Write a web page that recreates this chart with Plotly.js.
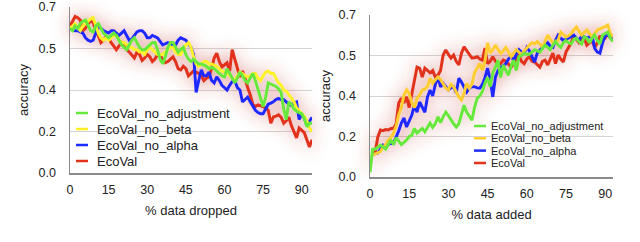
<!DOCTYPE html>
<html><head><meta charset="utf-8">
<script src="https://cdn.plot.ly/plotly-3.0.1.min.js"></script>
<style>html,body{margin:0;padding:0;background:#fff;}#chart{width:640px;height:242px;}</style>
</head><body><div id="chart"></div>
<script>
// ---------- data ----------
const seriesNames = ['EcoVal_no_adjustment', 'EcoVal_no_beta', 'EcoVal_no_alpha', 'EcoVal'];
const colorsLeft  = ['#66e83c', '#fff02a', '#1a2cff', '#e2321e'];
const colorsRight = ['#66e83c', '#ffcc33', '#1a2cff', '#e2321e'];

const yTickVals = [0, 0.175, 0.35, 0.525, 0.7];
const yTickText = ['0.0', '0.2', '0.4', '0.5', '0.7'];
const xTickVals = [0, 15, 30, 45, 60, 75, 90];

// left panel: % data dropped (x = 0..94)
const droppedX = Array.from({length: 95}, (_, i) => i);
const droppedNoAdj = [.61,.60,.62,.61,.63,.64,.645,.62,.60,.595,.62,.63,.61,.59,.58,.57,.58,.59,.58,.56,
  .54,.53,.52,.54,.56,.57,.55,.53,.52,.52,.53,.54,.55,.55,.52,.48,.46,.49,.53,.55,
  .55,.53,.51,.52,.53,.50,.48,.47,.48,.47,.46,.46,.455,.45,.44,.445,.44,.43,.42,.41,
  .405,.44,.42,.40,.38,.40,.425,.41,.39,.38,.40,.42,.39,.35,.31,.28,.32,.38,.375,.37,
  .365,.355,.34,.27,.225,.30,.29,.27,.26,.255,.25,.23,.195,.21,.21];
const droppedNoBeta = [.61,.62,.63,.61,.60,.62,.63,.64,.65,.655,.62,.59,.57,.56,.57,.56,.57,.58,.58,.56,
  .55,.55,.54,.53,.53,.52,.52,.51,.51,.50,.52,.53,.52,.51,.50,.50,.50,.51,.52,.53,
  .53,.51,.50,.50,.52,.54,.55,.53,.49,.46,.45,.46,.47,.47,.46,.46,.455,.45,.44,.43,
  .425,.42,.41,.40,.39,.41,.425,.42,.41,.405,.41,.42,.42,.40,.39,.41,.425,.43,.42,.42,
  .40,.38,.37,.35,.345,.33,.32,.30,.275,.26,.25,.24,.22,.19,.175];
const droppedNoAlpha = [.61,.605,.60,.60,.595,.59,.57,.56,.555,.56,.59,.615,.61,.60,.595,.59,.60,.60,.59,.58,
  .59,.60,.58,.56,.565,.58,.595,.60,.60,.59,.57,.57,.58,.575,.57,.555,.54,.545,.55,.545,
  .54,.54,.56,.57,.565,.56,.545,.53,.50,.34,.39,.435,.41,.41,.425,.39,.38,.405,.39,.37,
  .36,.35,.37,.385,.39,.36,.35,.30,.31,.32,.30,.28,.265,.255,.25,.25,.27,.29,.295,.30,
  .31,.315,.31,.31,.30,.29,.285,.295,.30,.225,.25,.23,.20,.22,.235];
const droppedEcoVal = [.62,.64,.66,.655,.645,.60,.61,.63,.64,.635,.60,.58,.55,.56,.575,.565,.55,.54,.52,.535,
  .55,.54,.52,.51,.495,.485,.51,.50,.475,.485,.50,.49,.47,.48,.50,.495,.48,.465,.47,.48,
  .49,.47,.44,.435,.45,.44,.41,.42,.43,.425,.42,.41,.39,.40,.405,.44,.485,.505,.47,.447,
  .455,.465,.43,.52,.48,.44,.405,.43,.40,.36,.33,.29,.28,.287,.285,.28,.275,.265,.21,.236,
  .24,.245,.235,.21,.22,.235,.20,.175,.148,.19,.18,.17,.14,.11,.14];

// right panel: % data added (x = 0..93)
const addedX = Array.from({length: 94}, (_, i) => i);
const addedNoAdj = [.02,.12,.12,.13,.138,.13,.12,.14,.16,.14,.17,.155,.14,.15,.16,.175,.18,.21,.19,.20,
  .21,.195,.215,.233,.215,.23,.26,.235,.26,.28,.265,.246,.23,.216,.23,.27,.31,.28,.26,.246,
  .30,.34,.35,.37,.405,.43,.39,.45,.475,.505,.43,.484,.46,.44,.48,.505,.46,.52,.525,.535,
  .53,.53,.54,.55,.545,.54,.555,.57,.56,.55,.57,.585,.57,.56,.58,.59,.58,.575,.595,.60,
  .585,.575,.605,.60,.58,.60,.613,.59,.575,.613,.62,.626,.60,.585];
const addedNoBeta = [null,.095,.10,.108,.11,.13,.14,.16,.17,.19,.22,.27,.30,.354,.376,.36,.32,.30,.34,.355,
  .376,.38,.39,.427,.405,.42,.432,.42,.405,.385,.376,.40,.39,.37,.345,.333,.363,.405,.384,.40,
  .45,.47,.49,.462,.50,.58,.535,.55,.57,.55,.535,.545,.56,.54,.52,.535,.55,.54,.527,.545,
  .56,.57,.58,.575,.585,.575,.56,.59,.613,.595,.58,.585,.59,.626,.615,.605,.61,.62,.635,.648,
  .63,.613,.625,.635,.62,.605,.62,.635,.64,.644,.65,.657,.62,.605];
const addedNoAlpha = [null,null,.10,.104,.12,.138,.13,.14,.15,.145,.17,.20,.233,.255,.216,.24,.268,.31,.28,.324,
  .30,.28,.346,.376,.35,.40,.432,.39,.405,.39,.376,.385,.39,.363,.427,.41,.39,.367,.384,.39,
  .39,.385,.384,.40,.43,.47,.42,.346,.432,.46,.475,.48,.49,.51,.52,.505,.53,.55,.54,.535,
  .56,.545,.52,.497,.535,.55,.56,.57,.58,.565,.56,.59,.613,.60,.59,.595,.60,.605,.613,.60,
  .59,.61,.605,.60,.605,.61,.556,.54,.535,.58,.61,.613,.605,.60];
const addedEcoVal = [null,.10,.108,.173,.203,.20,.205,.203,.21,.21,.23,.32,.34,.32,.346,.30,.36,.42,.475,.47,
  .432,.47,.46,.45,.46,.432,.44,.46,.527,.549,.53,.514,.527,.50,.484,.535,.562,.545,.53,.514,
  .515,.52,.51,.505,.557,.49,.50,.52,.50,.484,.49,.505,.50,.485,.475,.49,.514,.527,.50,.49,
  .51,.52,.50,.497,.485,.475,.50,.505,.484,.51,.535,.49,.527,.51,.497,.54,.56,.58,.61,.595,
  .58,.59,.60,.57,.58,.59,.56,.58,.61,.59,.60,.62,.60,.59];

const droppedSeries = [droppedNoAdj, droppedNoBeta, droppedNoAlpha, droppedEcoVal];
const addedSeries = [addedNoAdj, addedNoBeta, addedNoAlpha, addedEcoVal];

// ---------- traces (draw EcoVal first, no_adjustment on top) ----------
const traces = [];
for (let i = seriesNames.length - 1; i >= 0; i--) {
  traces.push({x: droppedX, y: droppedSeries[i], type: 'scatter', mode: 'lines', name: seriesNames[i],
    xaxis: 'x', yaxis: 'y', showlegend: false, line: {color: colorsLeft[i], width: 3}});
}
for (let i = seriesNames.length - 1; i >= 0; i--) {
  traces.push({x: addedX, y: addedSeries[i], type: 'scatter', mode: 'lines', name: seriesNames[i],
    xaxis: 'x2', yaxis: 'y2', showlegend: false, connectgaps: false, line: {color: colorsRight[i], width: 3}});
}

const FONT = 'Liberation Sans, Arial, Helvetica, sans-serif';
const W = 640, H = 242;
const px = v => v / W, py = v => 1 - v / H;

// custom legends (positions in pixels of the 640x242 page)
const shapes = [], annotations = [];
function addLegend(colors, x0, x1, tx, ys, fs) {
  seriesNames.forEach((n, i) => {
    shapes.push({type: 'line', xref: 'paper', yref: 'paper', x0: px(x0), x1: px(x1), y0: py(ys[i]), y1: py(ys[i]),
      line: {color: colors[i], width: 2.5}});
    annotations.push({xref: 'paper', yref: 'paper', x: px(tx), y: py(ys[i]), xanchor: 'left', yanchor: 'middle',
      text: n, showarrow: false, font: {family: FONT, size: fs, color: '#222'}});
  });
}
addLegend(colorsLeft, 76, 88, 95, [113, 129, 145, 161], 13);
addLegend(colorsRight, 474, 486, 489, [126, 138.3, 150.6, 163], 11);

// y-axis title of the right panel placed as a rotated annotation
annotations.push({xref: 'paper', yref: 'paper', x: px(325), y: py(96), xanchor: 'center', yanchor: 'middle',
  textangle: -90, text: 'accuracy', showarrow: false, font: {family: FONT, size: 13, color: '#222'}});

const axisCommon = {
  showline: true, linecolor: '#8a8a8a', linewidth: 1.5, ticks: '', zeroline: false,
  tickfont: {family: FONT, size: 12.5, color: '#222'}, fixedrange: true
};
const yCommon = Object.assign({}, axisCommon, {
  range: [0, 0.7], tickmode: 'array', tickvals: yTickVals, ticktext: yTickText,
  showgrid: true, gridcolor: '#d4d4d4', gridwidth: 1, ticklabelstandoff: 10
});
const xCommon = Object.assign({}, axisCommon, {
  tickmode: 'array', tickvals: xTickVals, showgrid: false, ticklabelstandoff: 4
});

const layout = {
  width: W, height: H, margin: {l: 0, r: 0, t: 0, b: 0},
  paper_bgcolor: '#fff', plot_bgcolor: '#fff', showlegend: false,
  font: {family: FONT, color: '#222'},
  xaxis: Object.assign({}, xCommon, {domain: [70 / W, 312 / W], range: [0, 94], anchor: 'y',
    title: {text: '% data dropped', font: {family: FONT, size: 13, color: '#222'}, standoff: 10}}),
  yaxis: Object.assign({}, yCommon, {domain: [1 - 173 / H, 1 - 7 / H], anchor: 'x',
    title: {text: 'accuracy', font: {family: FONT, size: 13, color: '#222'}, standoff: 7}}),
  xaxis2: Object.assign({}, xCommon, {domain: [370 / W, 613 / W], range: [0, 93], anchor: 'y2',
    title: {text: '% data added', font: {family: FONT, size: 13, color: '#222'}, standoff: 10}}),
  yaxis2: Object.assign({}, yCommon, {domain: [1 - 177 / H, 1 - 15 / H], anchor: 'x2'}),
  shapes: shapes, annotations: annotations
};

Plotly.newPlot('chart', traces, layout, {displayModeBar: false, staticPlot: true}).then(() => {
  const NS = 'http://www.w3.org/2000/svg';
  const svg = document.querySelector('#chart .main-svg');
  let defs = svg.querySelector('defs');
  if (!defs) { defs = document.createElementNS(NS, 'defs'); svg.insertBefore(defs, svg.firstChild); }
  const f = document.createElementNS(NS, 'filter');
  f.setAttribute('id', 'redglow');
  f.setAttribute('x', '-30%'); f.setAttribute('y', '-30%');
  f.setAttribute('width', '160%'); f.setAttribute('height', '160%');
  f.innerHTML =
    '<feFlood flood-color="rgb(195,60,50)" flood-opacity="0.55" result="c"/>' +
    '<feComposite in="c" in2="SourceAlpha" operator="in" result="s"/>' +
    '<feGaussianBlur in="s" stdDeviation="9" result="b"/>' +
    '<feMerge><feMergeNode in="b"/><feMergeNode in="SourceGraphic"/></feMerge>';
  defs.appendChild(f);
  svg.querySelectorAll('.overplot').forEach(g => g.setAttribute('filter', 'url(#redglow)'));
});
</script></body></html>
